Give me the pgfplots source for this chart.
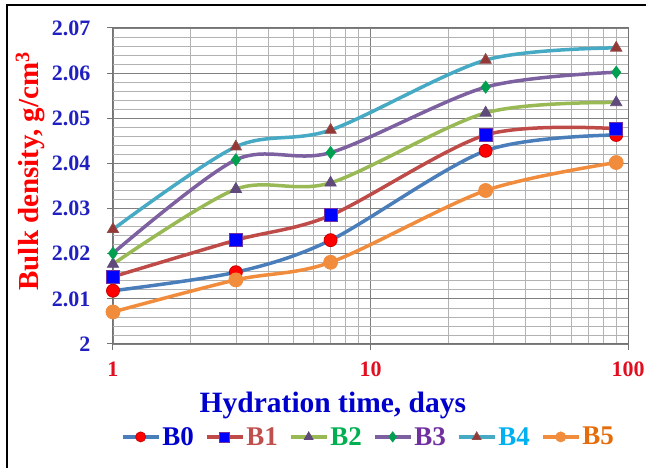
\documentclass[border=0pt]{standalone}
\usepackage{pgfplots}
\pgfplotsset{compat=1.18}
\usepackage{fontspec}
\setmainfont{Liberation Serif}
\definecolor{lB0}{HTML}{4A7EBB}
\definecolor{lB1}{HTML}{BE4B48}
\definecolor{lB2}{HTML}{98B954}
\definecolor{lB3}{HTML}{7D60A0}
\definecolor{lB4}{HTML}{46AAC5}
\definecolor{lB5}{HTML}{F08C3C}
\definecolor{mB2}{HTML}{604A7B}
\definecolor{mB3}{HTML}{00A050}
\definecolor{mB4}{HTML}{953735}
\definecolor{tB0}{HTML}{0000CC}
\definecolor{tB1}{HTML}{C0504D}
\definecolor{tB2}{HTML}{00B050}
\definecolor{tB3}{HTML}{7030A0}
\definecolor{tB4}{HTML}{00B0F0}
\definecolor{tB5}{HTML}{E46C0A}
\definecolor{ytick}{HTML}{2020C0}
\definecolor{xtick}{HTML}{E01020}
\begin{document}
\begin{tikzpicture}[x=1pt,y=1pt]
\useasboundingbox (0,0) rectangle (646,468);
\draw[line width=1.3pt] (7,0) -- (7,463) -- (650,463);
\begin{axis}[
  at={(113pt,124pt)}, anchor=south west,
  scale only axis, width=515pt, height=316pt,
  xmode=log, xmin=1, xmax=100, ymin=2, ymax=2.07,
  xtick={1,10,100}, xticklabels={1,10,100},
  ytick={2,2.01,2.02,2.03,2.04,2.05,2.06,2.07},
  minor ytick={2.002,2.004,2.006,2.008,2.012,2.014,2.016,2.018,2.022,2.024,2.026,2.028,2.032,2.034,2.036,2.038,2.042,2.044,2.046,2.048,2.052,2.054,2.056,2.058,2.062,2.064,2.066,2.068},
  yticklabel style={/pgf/number format/fixed,/pgf/number format/precision=2, text=ytick, font=\bfseries\fontsize{22}{22}\selectfont, xshift=-13pt},
  xticklabel style={text=xtick, font=\bfseries\fontsize{22}{22}\selectfont, yshift=-8pt},
  /pgf/number format/assume math mode=true,
  grid=both,
  major grid style={draw=black!50, line width=0.8pt},
  minor grid style={draw=black!30, line width=0.7pt},
  axis line style={draw=black!55, line width=1pt},
  tick style={draw=black!55, line width=1pt},
  major tick length=6pt, minor tick length=0pt,
  tick align=outside, xtick pos=bottom, ytick pos=left,
  xlabel={Hydration time, days},
  xlabel style={at={(axis description cs:0.427,-0.193)}, anchor=center, text=tB0, font=\bfseries\fontsize{29.5}{29.5}\selectfont},
  ylabel={Bulk density, g/cm\textsuperscript{3}},
  ylabel style={at={(axis description cs:-0.161,0.547)}, anchor=center, rotate=0, text=red, font=\bfseries\fontsize{29}{29}\selectfont},
  legend columns=6,
  legend style={at={(axis description cs:0.496,-0.294)}, anchor=center, draw=none, fill=none,
    font=\bfseries\fontsize{27}{27}\selectfont,
    /tikz/every even column/.append style={column sep=9pt},
    nodes={inner xsep=2pt}},
  legend image code/.code={\draw[#1, mark repeat=2, mark phase=2, mark size=5pt] plot coordinates {(0pt,0pt) (18pt,0pt) (36pt,0pt)};},
  every axis plot/.append style={line width=3.5pt, smooth},
]
\addplot[draw=lB0, mark=*, mark size=6.5pt, mark options={fill=red, draw=red!80!black, line width=0.8pt}]
  coordinates {(1,2.0118) (3,2.0159) (7,2.0230) (28,2.0428) (90,2.0463)};
\addlegendentry{\textcolor{tB0}{B0}}
\addplot[draw=lB1, mark=square*, mark size=6.5pt, mark options={fill=blue, draw=tB3, line width=0.8pt}]
  coordinates {(1,2.0149) (3,2.0230) (7,2.0285) (28,2.0463) (90,2.0477)};
\addlegendentry{\textcolor{tB1}{B1}}
\addplot[draw=lB2, mark=triangle*, mark size=6.5pt, mark options={fill=mB2, draw=mB2, line width=0.8pt}]
  coordinates {(1,2.0177) (3,2.0343) (7,2.0357) (28,2.0512) (90,2.0535)};
\addlegendentry{\textcolor{tB2}{B2}}
\addplot[draw=lB3, mark=diamond*, mark size=6pt, mark options={fill=mB3, draw=mB3, line width=0.8pt}]
  coordinates {(1,2.0201) (3,2.0408) (7,2.0424) (28,2.0569) (90,2.0602)};
\addlegendentry{\textcolor{tB3}{B3}}
\addplot[draw=lB4, mark=triangle*, mark size=6.5pt, mark options={fill=mB4, draw=mB4!70!gray, line width=0.8pt}]
  coordinates {(1,2.0254) (3,2.0437) (7,2.0474) (28,2.0629) (90,2.0656)};
\addlegendentry{\textcolor{tB4}{B4}}
\addplot[draw=lB5, mark=*, mark size=7pt, mark options={fill=lB5, draw=lB5, line width=0.8pt}]
  coordinates {(1,2.0071) (3,2.0142) (7,2.0181) (28,2.0340) (90,2.0402)};
\addlegendentry{\textcolor{tB5}{B5}}
\end{axis}
\end{tikzpicture}
\end{document}
